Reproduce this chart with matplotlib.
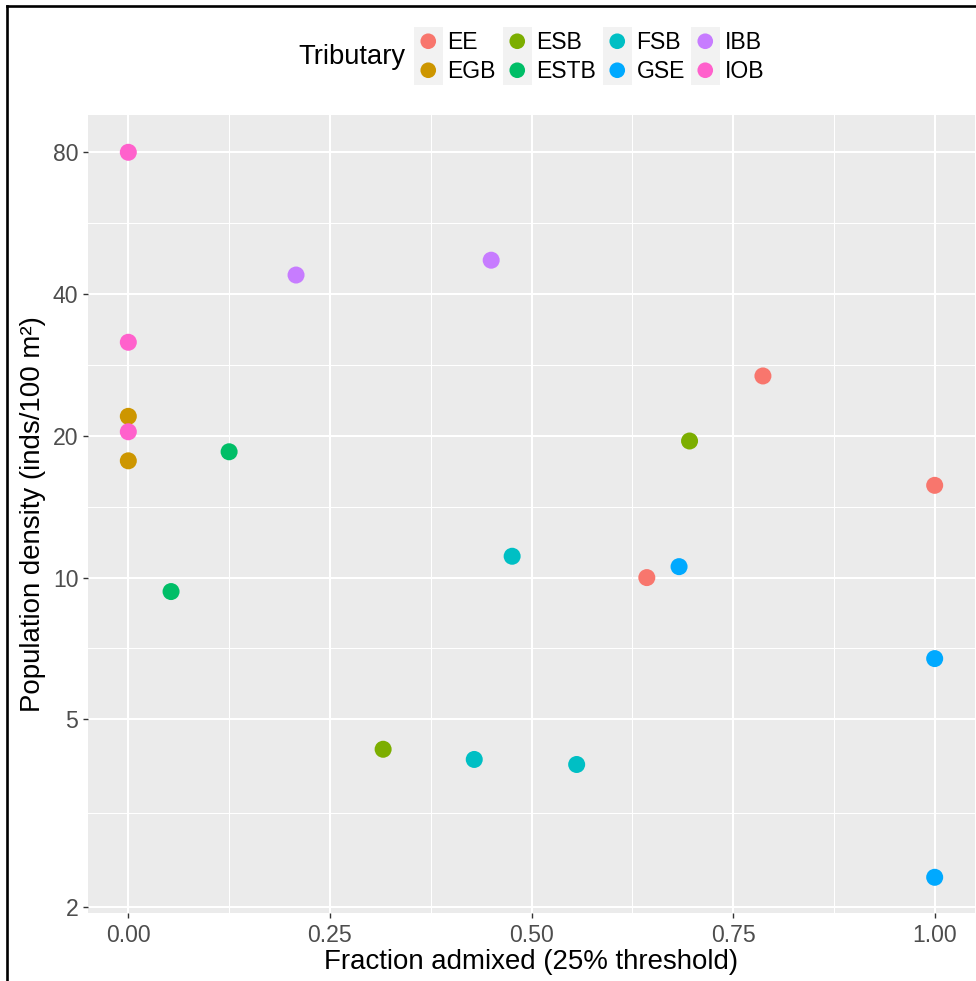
import matplotlib
matplotlib.use("Agg")
import matplotlib.pyplot as plt
import numpy as np
from matplotlib.ticker import FixedLocator, NullFormatter
from matplotlib.patches import Rectangle, Circle
from matplotlib.lines import Line2D

plt.rcParams['font.family'] = ['Liberation Sans', 'DejaVu Sans']

# ---- data ----
categories = ["EE", "EGB", "ESB", "ESTB", "FSB", "GSE", "IBB", "IOB"]
cat_colors = ["#F8766D", "#CD9600", "#7CAE00", "#00BE67",
              "#00BFC4", "#00A9FF", "#C77CFF", "#FF61CC"]

tributary = ["EE", "EE", "EE",
             "EGB", "EGB",
             "ESB", "ESB",
             "ESTB", "ESTB",
             "FSB", "FSB", "FSB",
             "GSE", "GSE", "GSE",
             "IBB", "IBB",
             "IOB", "IOB", "IOB"]
frac_admixed = [0.643, 0.787, 1.0,
                0.0, 0.0,
                0.316, 0.696,
                0.125, 0.053,
                0.476, 0.429, 0.556,
                0.683, 1.0, 1.0,
                0.208, 0.450,
                0.0, 0.0, 0.0]
density = [10.0, 26.8, 15.7,
           22.0, 17.7,
           4.32, 19.5,
           18.5, 9.34,
           11.1, 4.11, 4.01,
           10.55, 6.73, 2.31,
           43.9, 47.2,
           80.0, 31.6, 20.4]

x_ticks = [0.0, 0.25, 0.50, 0.75, 1.00]
x_tick_labels = ["0.00", "0.25", "0.50", "0.75", "1.00"]
y_ticks = [2, 5, 10, 20, 40, 80]
y_tick_labels = ["2", "5", "10", "20", "40", "80"]

W, H = 976, 981
fig = plt.figure(figsize=(W / 100, H / 100), dpi=100)
fig.patch.set_facecolor("white")

px_left, px_right, px_top, px_bottom = 88, 975, 115, 913
ax = fig.add_axes([px_left / W, 1 - px_bottom / H,
                   (px_right - px_left) / W, (px_bottom - px_top) / H])
ax.set_facecolor("#EBEBEB")
for s in ax.spines.values():
    s.set_visible(False)

color_map = dict(zip(categories, cat_colors))
xs = np.array(frac_admixed)
ys = np.array(density)
cols = [color_map[t] for t in tributary]
ax.scatter(xs, ys, s=150, c=cols, linewidths=0, zorder=3)

ax.set_yscale("log")
# ggplot-like 5% expansion
xr = xs.max() - xs.min()
ax.set_xlim(xs.min() - 0.05 * xr, xs.max() + 0.05 * xr)
ax.set_ylim(1.94, 96.0)

ax.xaxis.set_major_locator(FixedLocator(x_ticks))
ax.set_xticklabels(x_tick_labels)
ax.xaxis.set_minor_locator(FixedLocator([(a + b) / 2 for a, b in zip(x_ticks[:-1], x_ticks[1:])]))
ax.yaxis.set_major_locator(FixedLocator(y_ticks))
ax.set_yticklabels(y_tick_labels)
ax.yaxis.set_minor_locator(FixedLocator([np.sqrt(a * b) for a, b in zip(y_ticks[:-1], y_ticks[1:])]))
ax.xaxis.set_minor_formatter(NullFormatter())
ax.yaxis.set_minor_formatter(NullFormatter())

ax.grid(which="major", color="white", linewidth=1.5, zorder=0)
ax.grid(which="minor", color="white", linewidth=0.75, zorder=0)
ax.set_axisbelow(True)
ax.tick_params(which="major", length=3.5, width=1.0, color="#333333",
               labelcolor="#4D4D4D", labelsize=16.6)
ax.tick_params(axis="x", which="major", pad=4.5)
ax.tick_params(axis="y", which="major", pad=3.5)
ax.tick_params(which="minor", length=0)

ax.set_xlabel("Fraction admixed (25% threshold)", fontsize=19.9, color="black", labelpad=1.5)
ax.set_ylabel("Population density (inds/100 m²)", fontsize=19.9, color="black", labelpad=5)

# ---- overlay for legend and frame (pixel coordinates) ----
ov = fig.add_axes([0, 0, 1, 1], facecolor="none")
ov.set_xlim(0, W)
ov.set_ylim(H, 0)
ov.axis("off")

ov.text(298, 57, "Tributary", fontsize=19.7, ha="left", va="center", color="black")
col_x = [414, 503, 603, 691]
row_y = [27, 56]
key = 28.5
for i, (cat, colr) in enumerate(zip(categories, cat_colors)):
    c, r = i // 2, i % 2
    x0, y0 = col_x[c], row_y[r]
    ov.add_patch(Rectangle((x0, y0), key, key, facecolor="#F2F2F2", edgecolor="none"))
    ov.add_patch(Circle((x0 + key / 2, y0 + key / 2), 7.8, facecolor=colr, edgecolor="none"))
    ov.text(x0 + key + 5, y0 + key / 2 + 1, cat, fontsize=16.6, ha="left", va="center", color="black")

ov.add_line(Line2D([6.5, 6.5], [H + 5, 5.5], color="black", linewidth=1.9, solid_capstyle="projecting"))
ov.add_line(Line2D([6.5, W + 5], [5.5, 5.5], color="black", linewidth=1.9, solid_capstyle="projecting"))

fig.savefig("out.png", dpi=100, facecolor="white")
